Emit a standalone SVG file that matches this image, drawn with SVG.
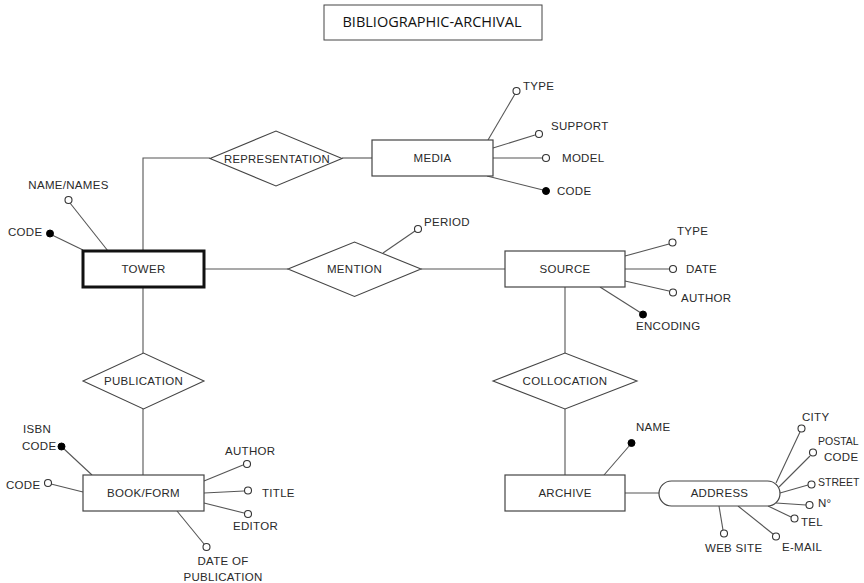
<svg xmlns="http://www.w3.org/2000/svg" width="864" height="583" viewBox="0 0 864 583">
  <style>
    .bg { fill: #ffffff; }
    .ent { fill: #ffffff; stroke: #444; stroke-width: 1.2; }
    .strong { fill: #ffffff; stroke: #111; stroke-width: 3; }
    .rel { fill: #ffffff; stroke: #444; stroke-width: 1.1; }
    .ln { stroke: #555; stroke-width: 1.1; fill: none; }
    .att { fill: #ffffff; stroke: #333; stroke-width: 1.1; }
    .key { fill: #000; stroke: #000; stroke-width: 1; }
    text { font-family: "Liberation Sans", "DejaVu Sans", sans-serif; font-size: 11.5px; letter-spacing: 0.3px; fill: #2a2a2a; }
    .c { text-anchor: middle; }
    .tight { letter-spacing: 0; font-size: 10.5px; }
    .title { font-family: "Open Sans", "Liberation Sans", sans-serif; font-size: 14.5px; letter-spacing: 0; fill: #111; }
  </style>
  <rect class="bg" x="0" y="0" width="864" height="583"/>

  <!-- title -->
  <g id="title">
    <rect x="324" y="5" width="218" height="35" fill="#fff" stroke="#444" stroke-width="1"/>
    <text class="title c" x="432" y="27">BIBLIOGRAPHIC-ARCHIVAL</text>
  </g>

  <!-- connectors between entities and relationships -->
  <g id="connectors">
    <polyline class="ln" points="143,251 143,158 210,158"/>
    <line class="ln" x1="342" y1="158" x2="372" y2="158"/>
    <line class="ln" x1="204" y1="269" x2="288" y2="269"/>
    <line class="ln" x1="421" y1="269" x2="505" y2="269"/>
    <line class="ln" x1="143" y1="287" x2="143" y2="353"/>
    <line class="ln" x1="143" y1="409" x2="143" y2="475"/>
    <line class="ln" x1="565" y1="287" x2="565" y2="353"/>
    <line class="ln" x1="565" y1="409" x2="565" y2="475"/>
    <line class="ln" x1="625" y1="493" x2="659" y2="493"/>

    <!-- attribute stems -->
    <line class="ln" x1="488" y1="140" x2="515" y2="94"/>
    <line class="ln" x1="493" y1="148" x2="535" y2="135"/>
    <line class="ln" x1="493" y1="158" x2="542" y2="158"/>
    <line class="ln" x1="487" y1="176" x2="543" y2="190"/>

    <line class="ln" x1="108" y1="251" x2="70" y2="203"/>
    <line class="ln" x1="83" y1="250" x2="52" y2="235"/>

    <line class="ln" x1="383" y1="253" x2="415" y2="231"/>

    <line class="ln" x1="625" y1="256" x2="669" y2="244"/>
    <line class="ln" x1="625" y1="269" x2="669" y2="269"/>
    <line class="ln" x1="625" y1="281" x2="669" y2="291"/>
    <line class="ln" x1="600" y1="287" x2="641" y2="313"/>

    <line class="ln" x1="92" y1="475" x2="63" y2="448"/>
    <line class="ln" x1="83" y1="492" x2="51" y2="484"/>
    <line class="ln" x1="204" y1="481" x2="243" y2="465"/>
    <line class="ln" x1="204" y1="493" x2="244" y2="491"/>
    <line class="ln" x1="204" y1="503" x2="244" y2="513"/>
    <line class="ln" x1="177" y1="511" x2="204" y2="544"/>

    <line class="ln" x1="604" y1="475" x2="630" y2="445"/>

    <line class="ln" x1="776" y1="483" x2="800" y2="432"/>
    <line class="ln" x1="779" y1="487" x2="810" y2="456"/>
    <line class="ln" x1="780" y1="493" x2="808" y2="485"/>
    <line class="ln" x1="776" y1="503" x2="806" y2="505"/>
    <line class="ln" x1="768" y1="506" x2="791" y2="517"/>
    <line class="ln" x1="738" y1="506" x2="773" y2="534"/>
    <line class="ln" x1="719" y1="506" x2="723" y2="530"/>
  </g>

  <!-- relationships -->
  <g id="representation">
    <polygon class="rel" points="210,158.5 276,131 342,158.5 276,186"/>
    <text class="c" x="277" y="162.5" textLength="106" lengthAdjust="spacingAndGlyphs">REPRESENTATION</text>
  </g>
  <g id="mention">
    <polygon class="rel" points="288,269 354.5,242 421,269 354.5,296.5"/>
    <text class="c" x="354.5" y="273">MENTION</text>
  </g>
  <g id="publication">
    <polygon class="rel" points="83,381 143.5,353 204,381 143.5,409"/>
    <text class="c" x="143.5" y="385">PUBLICATION</text>
  </g>
  <g id="collocation">
    <polygon class="rel" points="493,381 565,353 637,381 565,409"/>
    <text class="c" x="565" y="385">COLLOCATION</text>
  </g>

  <!-- entities -->
  <g id="media">
    <rect class="ent" x="372" y="140" width="121" height="36"/>
    <text class="c" x="432.5" y="162">MEDIA</text>
  </g>
  <g id="tower">
    <rect class="strong" x="83" y="251" width="121" height="36"/>
    <text class="c" x="143.5" y="273">TOWER</text>
  </g>
  <g id="source">
    <rect class="ent" x="505" y="251" width="120" height="36"/>
    <text class="c" x="565" y="273">SOURCE</text>
  </g>
  <g id="book-form">
    <rect class="ent" x="83" y="475" width="121" height="36"/>
    <text class="c" x="143.5" y="497">BOOK/FORM</text>
  </g>
  <g id="archive">
    <rect class="ent" x="505" y="475" width="120" height="36"/>
    <text class="c" x="565" y="497">ARCHIVE</text>
  </g>
  <g id="address">
    <rect class="ent" x="659" y="481" width="121" height="25" rx="12.5"/>
    <text class="c" x="719.5" y="497">ADDRESS</text>
  </g>

  <!-- attributes of MEDIA -->
  <g id="media-attrs">
    <circle class="att" cx="516.5" cy="91" r="3.5"/>
    <text x="523" y="90">TYPE</text>
    <circle class="att" cx="539" cy="134" r="3.5"/>
    <text x="551" y="130">SUPPORT</text>
    <circle class="att" cx="546" cy="158" r="3.5"/>
    <text x="562" y="162">MODEL</text>
    <circle class="key" cx="546" cy="191" r="3.5"/>
    <text x="557" y="195">CODE</text>
  </g>

  <!-- attributes of TOWER -->
  <g id="tower-attrs">
    <circle class="att" cx="68.5" cy="200" r="3.5"/>
    <text class="c" x="68.5" y="189">NAME/NAMES</text>
    <circle class="key" cx="50" cy="233.5" r="3.5"/>
    <text x="8" y="236">CODE</text>
  </g>

  <!-- attribute of MENTION -->
  <g id="mention-attrs">
    <circle class="att" cx="418" cy="229" r="3.5"/>
    <text x="424" y="226">PERIOD</text>
  </g>

  <!-- attributes of SOURCE -->
  <g id="source-attrs">
    <circle class="att" cx="672.5" cy="242.5" r="3.5"/>
    <text x="677" y="235">TYPE</text>
    <circle class="att" cx="673" cy="269" r="3.5"/>
    <text x="686" y="273">DATE</text>
    <circle class="att" cx="673" cy="292.5" r="3.5"/>
    <text x="681" y="302">AUTHOR</text>
    <circle class="key" cx="643" cy="314.5" r="3.5"/>
    <text x="636" y="330">ENCODING</text>
  </g>

  <!-- attributes of BOOK/FORM -->
  <g id="book-form-attrs">
    <circle class="key" cx="61.5" cy="446.5" r="3.5"/>
    <text x="23" y="433">ISBN</text>
    <text x="22" y="450">CODE</text>
    <circle class="att" cx="48" cy="483" r="3.5"/>
    <text x="6" y="489">CODE</text>
    <circle class="att" cx="247" cy="464" r="3.5"/>
    <text x="225" y="455">AUTHOR</text>
    <circle class="att" cx="248" cy="490.5" r="3.5"/>
    <text x="262" y="497">TITLE</text>
    <circle class="att" cx="248" cy="514" r="3.5"/>
    <text x="233" y="530">EDITOR</text>
    <circle class="att" cx="206.5" cy="547" r="3.5"/>
    <text class="c" x="223" y="565">DATE OF</text>
    <text class="c" x="223" y="581">PUBLICATION</text>
  </g>

  <!-- attribute of ARCHIVE -->
  <g id="archive-attrs">
    <circle class="key" cx="631.5" cy="443" r="3.5"/>
    <text x="636" y="431">NAME</text>
  </g>

  <!-- components of ADDRESS -->
  <g id="address-attrs">
    <circle class="att" cx="801.5" cy="428.5" r="3.5"/>
    <text x="802" y="421">CITY</text>
    <circle class="att" cx="813" cy="452.5" r="3.5"/>
    <text class="tight" x="818" y="444.5">POSTAL</text>
    <text x="824" y="461">CODE</text>
    <circle class="att" cx="811.5" cy="484.5" r="3.5"/>
    <text class="tight" x="818" y="485.5">STREET</text>
    <circle class="att" cx="809.5" cy="505" r="3.5"/>
    <text x="818" y="507">N°</text>
    <circle class="att" cx="794.5" cy="518.5" r="3.5"/>
    <text x="801" y="526">TEL</text>
    <circle class="att" cx="776" cy="536.5" r="3.5"/>
    <text x="782" y="550.5">E-MAIL</text>
    <circle class="att" cx="724" cy="533.5" r="3.5"/>
    <text x="705" y="552">WEB SITE</text>
  </g>
</svg>
